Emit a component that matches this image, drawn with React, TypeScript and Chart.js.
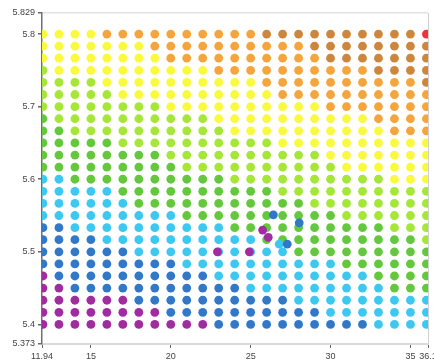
import React, { useEffect, useRef } from "react";
import { Chart, registerables } from "chart.js";

Chart.register(...registerables);

// Grid columns (x) and rows (y, top to bottom)
const xValues = [12, 13, 14, 15, 16, 17, 18, 19, 20, 21, 22, 23, 24, 25, 26, 27, 28, 29, 30, 31, 32, 33, 34, 35, 36];
const yValues = [
  5.8, 5.7833, 5.7667, 5.75, 5.7333, 5.7167, 5.7, 5.6833, 5.6667, 5.65, 5.6333, 5.6167, 5.6,
  5.5833, 5.5667, 5.55, 5.5333, 5.5167, 5.5, 5.4833, 5.4667, 5.45, 5.4333, 5.4167, 5.4,
];

// Colour class of each cell, one row per y value, run-length encoded left to right
const cellRuns = [
  "Y4 O10 B10 R1",
  "Y7 O10 B8",
  "Y8 O10 B7",
  "L1 Y10 O10 B4",
  "L4 Y10 O10 B1",
  "L5 Y10 O10",
  "L8 Y10 O7",
  "G1 L10 Y10 O4",
  "G2 L10 Y10 O3",
  "G5 L10 Y10",
  "G8 L10 Y7",
  "G9 L10 Y6",
  "C2 G10 L10 Y3",
  "C5 G10 L10",
  "C6 G11 L8",
  "C9 G10 L6",
  "U2 C10 G10 L3",
  "U4 C10 G10 L1",
  "U6 C10 G9",
  "U9 C10 G6",
  "P1 U10 C10 G4",
  "P2 U11 C9 G3",
  "P6 U10 C9",
  "P8 U10 C7",
  "P11 U10 C4",
];

// Extra scattered points drawn on top
const extraX = [26.42, 28.04, 25.75, 26.1, 26.79, 27.29, 22.92, 24.92];
const extraY = [5.551, 5.54, 5.53, 5.52, 5.5105, 5.5105, 5.5, 5.5];
const extraClass = ["U", "U", "P", "P", "C", "U", "P", "P"];

const xTicks = [11.94, 15, 20, 25, 30, 35, 36.1];
const yTicks = [5.373, 5.4, 5.5, 5.6, 5.7, 5.8, 5.829];
const xMin = 11.94;
const xMax = 36.1;
const yMin = 5.373;
const yMax = 5.829;

const classOrder = ["R", "B", "O", "Y", "L", "G", "C", "U", "P"];
const classColors: Record<string, string> = {
  R: "#f0323c",
  B: "#cd873c",
  O: "#f5a53c",
  Y: "#fafa3c",
  L: "#a5e637",
  G: "#64c83c",
  C: "#3cc8f0",
  U: "#3278c8",
  P: "#a02ca0",
};

function decodeRow(runs: string): string[] {
  const out: string[] = [];
  runs.split(" ").forEach((tok) => {
    const c = tok[0];
    const n = parseInt(tok.slice(1), 10);
    for (let k = 0; k < n; k++) out.push(c);
  });
  return out;
}

export default function App() {
  const ref = useRef<HTMLCanvasElement | null>(null);

  useEffect(() => {
    document.body.style.margin = "0";
    const canvas = ref.current;
    if (!canvas) return;

    const buckets: Record<string, { x: number; y: number }[]> = {};
    classOrder.forEach((c) => (buckets[c] = []));
    cellRuns.forEach((runs, j) => {
      const row = decodeRow(runs);
      row.forEach((c, i) => {
        if (i < xValues.length) buckets[c].push({ x: xValues[i], y: yValues[j] });
      });
    });

    const extraData = extraX.map((x, k) => ({ x, y: extraY[k] }));
    const extraColors = extraClass.map((c) => classColors[c]);

    const datasets: any[] = [
      {
        label: "extra",
        data: extraData,
        backgroundColor: extraColors,
        borderWidth: 0,
        pointRadius: 4.4,
      },
      ...classOrder.map((c) => ({
        label: c,
        data: buckets[c],
        backgroundColor: classColors[c],
        borderWidth: 0,
        pointRadius: 4.4,
      })),
    ];

    const font = { size: 9, family: "'Liberation Sans', Arial, sans-serif" };

    const chart = new Chart(canvas, {
      type: "scatter",
      data: { datasets },
      options: {
        animation: false,
        responsive: false,
        maintainAspectRatio: false,
        layout: { padding: { left: 0, right: 6, top: 13, bottom: 0 } },
        plugins: { legend: { display: false }, tooltip: { enabled: false } },
        scales: {
          x: {
            type: "linear",
            min: xMin,
            max: xMax,
            afterBuildTicks: (s: any) => {
              s.ticks = xTicks.map((v) => ({ value: v }));
            },
            afterFit: (s: any) => {
              s.height = 16;
              s.paddingLeft = 0;
              s.paddingRight = 0;
            },
            ticks: {
              autoSkip: false,
              maxRotation: 0,
              minRotation: 0,
              padding: 3,
              color: "#444",
              font,
              callback: (v: any) => String(v),
            },
            grid: {
              drawOnChartArea: true,
              color: (ctx: any) =>
                ctx.tick && ctx.tick.value === xMax ? "#cfcfcf" : "rgba(0,0,0,0)",
              tickColor: "#666",
              tickLength: 4,
              lineWidth: 1,
            },
            border: { display: true, color: "#dadada", width: 2 },
          },
          y: {
            type: "linear",
            min: yMin,
            max: yMax,
            afterBuildTicks: (s: any) => {
              s.ticks = yTicks.map((v) => ({ value: v }));
            },
            afterFit: (s: any) => {
              s.width = 42;
              s.paddingTop = 0;
              s.paddingBottom = 0;
            },
            ticks: {
              autoSkip: false,
              padding: 3,
              color: "#444",
              font,
              callback: (v: any) => String(v),
            },
            grid: {
              drawOnChartArea: true,
              color: (ctx: any) =>
                ctx.tick && ctx.tick.value === yMax ? "#e2e2e2" : "rgba(0,0,0,0)",
              tickColor: "#666",
              tickLength: 4,
              lineWidth: 1.5,
            },
            border: { display: true, color: "#707070", width: 1.5 },
          },
        },
      } as any,
    });

    return () => chart.destroy();
  }, []);

  return (
    <div style={{ width: 434, height: 360 }}>
      <canvas ref={ref} width={434} height={360} style={{ display: "block" }} />
    </div>
  );
}
